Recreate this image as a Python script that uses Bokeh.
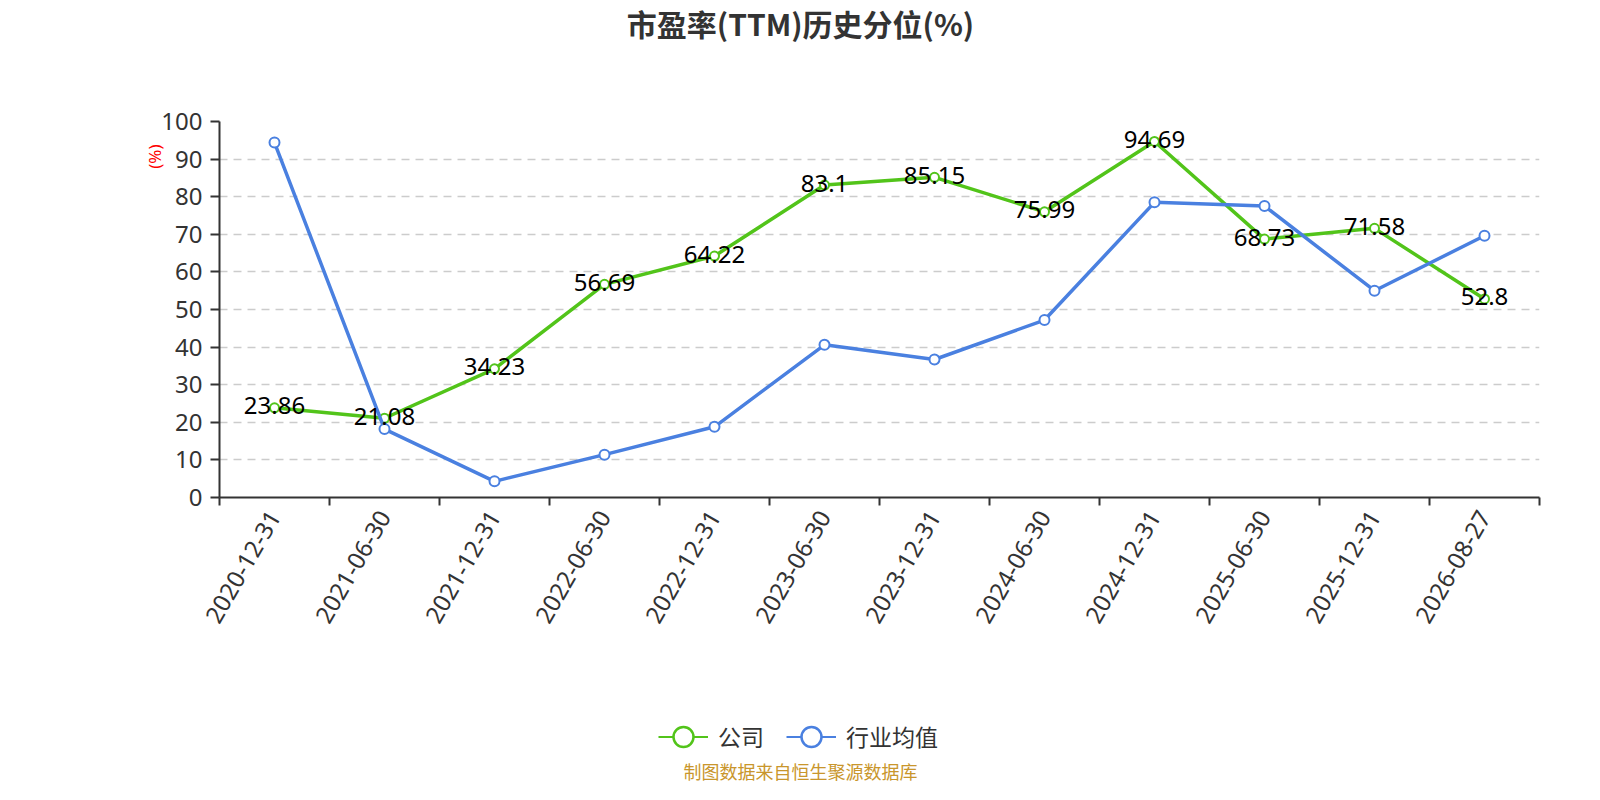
import numpy as np
from math import pi
from bokeh.plotting import figure
from bokeh.layouts import column
from bokeh.models import (ColumnDataSource, FixedTicker, Label, Legend, LegendItem,
                          Range1d, Title)
from bokeh.core.properties import value
from bokeh.embed import file_html
from bokeh.resources import INLINE

categories = ["2020-12-31", "2021-06-30", "2021-12-31", "2022-06-30", "2022-12-31",
              "2023-06-30", "2023-12-31", "2024-06-30", "2024-12-31", "2025-06-30",
              "2025-12-31", "2026-08-27"]
company = [23.86, 21.08, 34.23, 56.69, 64.22, 83.1, 85.15, 75.99, 94.69, 68.73, 71.58, 52.8]
industry = [94.4, 18.2, 4.3, 11.4, 18.8, 40.6, 36.7, 47.2, 78.5, 77.5, 55.0, 69.6]
y_ticks = [0, 10, 20, 30, 40, 50, 60, 70, 80, 90, 100]

title_text = "市盈率(TTM)历史分位(%)"
series_names = ["公司", "行业均值"]
footer_text = "制图数据来自恒生聚源数据库"
unit_text = "(%)"

GREEN = "#52c41a"
BLUE = "#4a80e0"
CJK = "Noto Sans CJK SC"
NUM = "Noto Sans"
W = 1584
LEFT = 219          # left border of every panel (frames are aligned in the column)
CX = 800 - LEFT     # page centre, relative to the frame's left edge


def blank_fig(h):
    f = figure(width=W, height=h, output_backend="svg", toolbar_location=None,
               x_axis_type=None, y_axis_type=None, x_range=Range1d(0, 1),
               y_range=Range1d(0, 1), min_border=0)
    f.min_border_left = LEFT
    f.min_border_right = f.min_border_top = f.min_border_bottom = 0
    f.outline_line_color = None
    f.xgrid.grid_line_color = None
    f.ygrid.grid_line_color = None
    return f


# ---- top: title ----
TOP_H = 105
top = blank_fig(TOP_H)
top.add_layout(Label(x=CX, y=TOP_H - 22, x_units="screen", y_units="screen",
                     text=title_text, text_align="center", text_baseline="middle",
                     text_font=CJK, text_font_size="30px", text_font_style="bold",
                     text_color="#333333"))

# ---- main chart ----
n = len(categories)
xs = [i + 0.5 for i in range(n)]
src = ColumnDataSource(dict(x=xs, company=company, industry=industry,
                            lbl=[str(v) for v in company]))

p = figure(frame_width=1320, frame_height=376, output_backend="svg",
           toolbar_location=None, x_range=Range1d(0, n), y_range=Range1d(0, 100),
           min_border_left=LEFT, min_border_right=W - LEFT - 1320, min_border_top=16,
           min_border_bottom=140)
p.outline_line_color = None

p.xgrid.grid_line_color = None
p.ygrid.grid_line_color = "#cccccc"
p.ygrid.grid_line_dash = "8 6"
p.ygrid.grid_line_width = 1.5

p.yaxis.ticker = FixedTicker(ticks=y_ticks)
p.yaxis.axis_line_color = "#333333"
p.yaxis.axis_line_width = 2
p.yaxis.major_tick_line_color = "#333333"
p.yaxis.major_tick_line_width = 2
p.yaxis.major_tick_out = 9
p.yaxis.major_tick_in = 0
p.yaxis.minor_tick_line_color = None
p.yaxis.major_label_standoff = 8
p.yaxis.major_label_text_font = NUM
p.yaxis.major_label_text_font_size = "24px"
p.yaxis.major_label_text_color = "#333333"

p.xaxis.ticker = FixedTicker(ticks=xs, minor_ticks=list(range(n + 1)))
p.xaxis.major_label_overrides = {x: c for x, c in zip(xs, categories)}
p.xaxis.axis_line_color = "#333333"
p.xaxis.axis_line_width = 2
p.xaxis.major_tick_line_color = None
p.xaxis.major_tick_out = 0
p.xaxis.major_tick_in = 0
p.xaxis.minor_tick_line_color = "#333333"
p.xaxis.minor_tick_line_width = 2
p.xaxis.minor_tick_out = 8
p.xaxis.minor_tick_in = 0
p.xaxis.major_label_orientation = pi / 3
p.xaxis.major_label_standoff = 7
p.xaxis.major_label_text_font = NUM
p.xaxis.major_label_text_font_size = "24px"
p.xaxis.major_label_text_color = "#333333"

p.add_layout(Title(text=unit_text, align="right", offset=23, standoff=-14,
                   vertical_align="bottom", text_color="#ff0000",
                   text_font=NUM, text_font_size="17px", text_font_style="normal"),
             "left")

p.line("x", "company", source=src, line_color=GREEN, line_width=3.5)
p.scatter("x", "company", source=src, size=9, marker="circle", fill_color="white",
          line_color=GREEN, line_width=2)
p.line("x", "industry", source=src, line_color=BLUE, line_width=3.5)
p.scatter("x", "industry", source=src, size=10, marker="circle", fill_color="white",
          line_color=BLUE, line_width=2)
p.text("x", "company", text="lbl", source=src, text_align="center",
       text_baseline="middle", y_offset=-2, text_font=value(NUM),
       text_font_size="24px", text_color="#000000")

# ---- bottom: legend + footer ----
MAIN_H = 16 + 376 + 140
BOT_Y0 = TOP_H + MAIN_H
BOT_H = 784 - BOT_Y0
bot = blank_fig(BOT_H)
nan_src = ColumnDataSource(dict(x=[np.nan], y=[np.nan]))
lg1 = bot.line("x", "y", source=nan_src, line_color=GREEN, line_width=2)
sg1 = bot.scatter("x", "y", source=nan_src, size=20, marker="circle",
                  fill_color="white", line_color=GREEN, line_width=2.5)
lg2 = bot.line("x", "y", source=nan_src, line_color=BLUE, line_width=2)
sg2 = bot.scatter("x", "y", source=nan_src, size=20, marker="circle",
                  fill_color="white", line_color=BLUE, line_width=2.5)
GH = 55
legend_center = 736
legend = Legend(items=[LegendItem(label=series_names[0], renderers=[lg1, sg1]),
                       LegendItem(label=series_names[1], renderers=[lg2, sg2])],
                location=(658 - LEFT, BOT_H - (legend_center + GH / 2 - BOT_Y0)),
                orientation="horizontal",
                glyph_width=50, glyph_height=GH, label_standoff=10, spacing=22,
                padding=0, margin=0, border_line_color=None,
                background_fill_alpha=0, label_text_font=CJK,
                label_text_font_size="23px", label_text_color="#333333")
bot.add_layout(legend, "center")
bot.add_layout(Label(x=CX, y=14, x_units="screen", y_units="screen", text=footer_text,
                     text_align="center", text_baseline="middle", text_font=CJK,
                     text_font_size="18px", text_color="#c9962c"))

layout = column(top, p, bot, spacing=0)
open("out.html", "w").write(file_html(layout, INLINE))
